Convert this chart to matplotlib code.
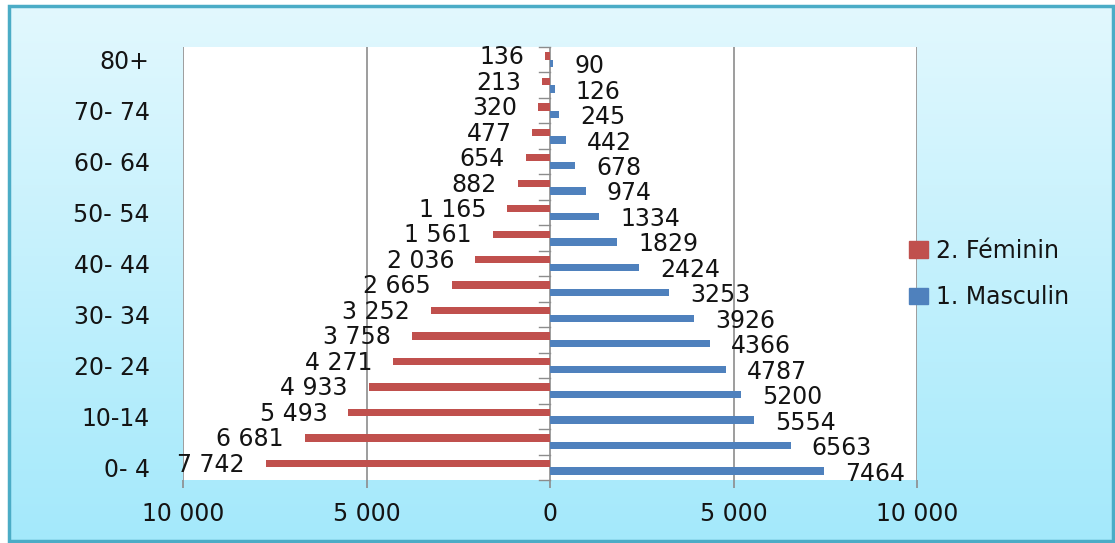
import numpy as np
import matplotlib
matplotlib.use("Agg")
import matplotlib.pyplot as plt
from matplotlib.patches import Rectangle, Patch
from matplotlib.ticker import FuncFormatter, FixedLocator

categories = ["0- 4", "5- 9", "10-14", "15- 19", "20- 24", "25- 29", "30- 34", "35- 39",
              "40- 44", "45- 49", "50- 54", "55- 59", "60- 64", "65- 69", "70- 74", "75- 79", "80+"]
feminin = [7742, 6681, 5493, 4933, 4271, 3758, 3252, 2665, 2036, 1561, 1165, 882, 654, 477, 320, 213, 136]
masculin = [7464, 6563, 5554, 5200, 4787, 4366, 3926, 3253, 2424, 1829, 1334, 974, 678, 442, 245, 126, 90]
series_names = ["2. Féminin", "1. Masculin"]
x_ticks = [-10000, -5000, 0, 5000, 10000]

RED = "#C0504D"
BLUE = "#4F81BD"
TXT = "#141414"
FONT = "DejaVu Sans"
FS = 17

plt.rcParams['font.family'] = [FONT]

W, H = 1115, 543
fig = plt.figure(figsize=(W / 100, H / 100), dpi=100, facecolor="white")

# gradient background with border
bg = fig.add_axes([0, 0, 1, 1], zorder=-10)
bg.set_xlim(0, W)
bg.set_ylim(H, 0)
bg.axis("off")
top = np.array([0xE2, 0xF8, 0xFE]) / 255
bot = np.array([0xA4, 0xE9, 0xFB]) / 255
t = np.linspace(0, 1, 256)[:, None]
grad = (top[None, :] * (1 - t) + bot[None, :] * t)[:, None, :]
bx0, by0, bx1, by1 = 9, 6, 1113, 541
bg.imshow(grad, extent=(bx0, bx1, by1, by0), aspect="auto", interpolation="bilinear")
bg.add_patch(Rectangle((bx0, by0), bx1 - bx0, by1 - by0, fill=False, edgecolor="#4BACC6", lw=2.5))

# main axes
left, right, ptop, pbot = 183, 917, 47, 480
ax = fig.add_axes([left / W, 1 - pbot / H, (right - left) / W, (pbot - ptop) / H])
ax.set_facecolor("white")

y = np.arange(len(categories))
off = 0.15
hgt = 0.29
fem_vals = -np.array(feminin)
mas_vals = np.array(masculin)
ax.barh(y + off, fem_vals, height=hgt, color=RED, zorder=3)
ax.barh(y - off, mas_vals, height=hgt, color=BLUE, zorder=3)

ax.set_xlim(-10000, 10000)
ax.set_ylim(-0.5, len(categories) - 0.5)

# data labels
lab_off = 21 * 20000 / (right - left)
for yi, v in zip(y, feminin):
    ax.text(-v - lab_off, yi + off - 0.05, f"{v:,}".replace(",", " "), ha="right", va="center",
            fontsize=FS, color=TXT, zorder=4)
for yi, v in zip(y, masculin):
    ax.text(v + lab_off, yi - off - 0.1, f"{v}", ha="left", va="center",
            fontsize=FS, color=TXT, zorder=4, clip_on=False)

# gridlines
for gx in x_ticks:
    ax.axvline(gx, color="#8C8C8C", lw=1.2, zorder=1)

for s in ax.spines.values():
    s.set_visible(False)

ax.xaxis.set_major_locator(FixedLocator(x_ticks))
ax.xaxis.set_major_formatter(FuncFormatter(lambda v, p: f"{abs(int(v)):,}".replace(",", " ")))
ax.tick_params(axis="x", length=6, width=1.2, color="#8C8C8C", labelsize=FS, labelcolor=TXT, pad=10)

ax.set_yticks(y[::2])
ax.set_yticklabels(categories[::2])
ax.tick_params(axis="y", length=0, labelsize=FS, labelcolor=TXT, pad=24)

# small tick marks on zero axis at category boundaries
for b in np.arange(-0.5, len(categories), 1.0):
    ax.plot([-300, 0], [b, b], color="#8C8C8C", lw=1.0, zorder=2, clip_on=False)

handles = [Patch(facecolor=RED, edgecolor=RED), Patch(facecolor=BLUE, edgecolor=BLUE)]
fig.legend(handles, series_names, loc="center left", bbox_to_anchor=(888 / W, 1 - 274 / H),
           frameon=False, fontsize=FS, labelcolor=TXT, handlelength=0.8, handleheight=0.7,
           handletextpad=0.35, labelspacing=0.95)

fig.savefig("out.png", dpi=100, facecolor="white")
